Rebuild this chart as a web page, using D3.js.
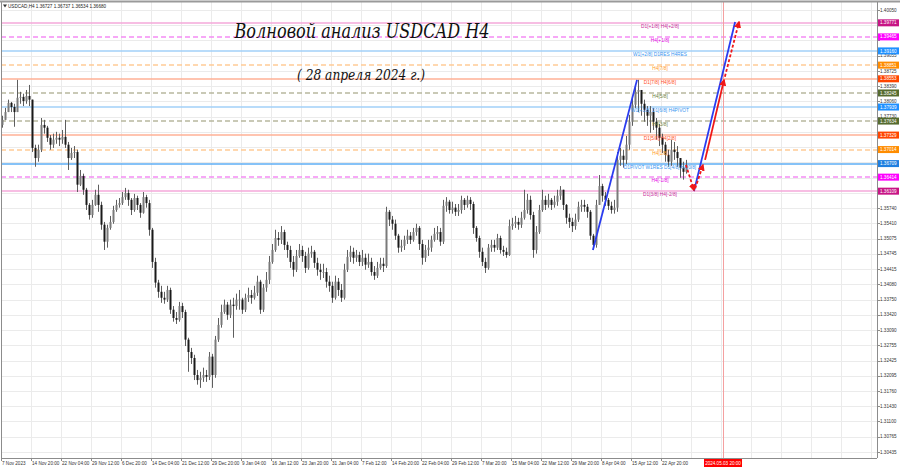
<!DOCTYPE html>
<html><head><meta charset="utf-8">
<script src="https://cdn.jsdelivr.net/npm/d3@7"></script>
<style>html,body{margin:0;padding:0;background:#fff;}svg{display:block;}</style>
</head><body>
<svg id="c" width="900" height="468"></svg>
<script>
// ---------------- DATA ----------------
const symbolTitle = "USDCAD,H4";
const headerOHLC = ["1.36727", "1.36737", "1.36534", "1.36680"];
const titleText = "Волновой анализ USDCAD H4";
const subtitleText = "( 28 апреля 2024 г.)";

const firstOpen = 1.3755;
const closes = [1.3766,1.3783,1.3803,1.3794,1.3783,1.3814,1.3816,1.3807,1.3818,1.3810,
1.3705,1.3683,1.3701,1.3755,1.3749,1.3727,1.3712,1.3723,1.3727,1.3723,
1.3729,1.3712,1.3683,1.3694,1.3696,1.3625,1.3644,1.3614,1.3581,1.3559,
1.3581,1.3603,1.3581,1.3538,1.3501,1.3531,1.3544,1.3570,1.3581,1.3585,
1.3598,1.3607,1.3592,1.3570,1.3596,1.3581,1.3564,1.3598,1.3585,1.3527,
1.3457,1.3412,1.3392,1.3379,1.3375,1.3396,1.3353,1.3335,1.3331,1.3361,
1.3348,1.3288,1.3261,1.3248,1.3211,1.3200,1.3205,1.3211,1.3207,1.3251,
1.3211,1.3288,1.3320,1.3348,1.3364,1.3342,1.3364,1.3361,1.3375,1.3375,
1.3353,1.3379,1.3385,1.3379,1.3390,1.3414,1.3353,1.3401,1.3418,1.3457,
1.3483,1.3509,1.3505,1.3522,1.3494,1.3483,1.3457,1.3440,1.3470,1.3483,
1.3470,1.3444,1.3475,1.3479,1.3455,1.3440,1.3435,1.3435,1.3414,1.3405,
1.3379,1.3414,1.3396,1.3379,1.3440,1.3468,1.3479,1.3466,1.3472,1.3457,
1.3466,1.3451,1.3457,1.3435,1.3427,1.3444,1.3453,1.3448,1.3566,1.3549,
1.3540,1.3514,1.3488,1.3492,1.3505,1.3514,1.3505,1.3522,1.3531,1.3496,
1.3466,1.3483,1.3488,1.3505,1.3518,1.3522,1.3501,1.3579,1.3588,1.3570,
1.3575,1.3566,1.3570,1.3592,1.3581,1.3592,1.3583,1.3531,1.3509,1.3479,
1.3457,1.3444,1.3488,1.3494,1.3488,1.3509,1.3483,1.3479,1.3472,1.3535,
1.3540,1.3544,1.3538,1.3553,1.3570,1.3592,1.3559,1.3483,1.3522,1.3570,
1.3592,1.3581,1.3592,1.3581,1.3588,1.3601,1.3614,1.3581,1.3553,1.3544,
1.3535,1.3549,1.3577,1.3581,1.3577,1.3566,1.3514,1.3494,1.3581,1.3622,
1.3601,1.3592,1.3579,1.3570,1.3575,1.3679,1.3688,1.3679,1.3712,1.3762,
1.3799,1.3827,1.3831,1.3801,1.3788,1.3775,1.3783,1.3762,1.3749,1.3727,
1.3712,1.3690,1.3675,1.3701,1.3696,1.3683,1.3662,1.3653,1.3668];
const highs = [1.3775,1.3792,1.3810,1.3805,1.3801,1.3853,1.3827,1.3823,1.3831,1.3842,
1.3810,1.3712,1.3712,1.3770,1.3766,1.3753,1.3733,1.3736,1.3740,1.3736,
1.3744,1.3766,1.3718,1.3705,1.3709,1.3701,1.3657,1.3649,1.3618,1.3585,
1.3592,1.3614,1.3625,1.3588,1.3544,1.3538,1.3557,1.3579,1.3592,1.3596,
1.3609,1.3618,1.3614,1.3596,1.3605,1.3601,1.3585,1.3609,1.3603,1.3592,
1.3531,1.3466,1.3418,1.3405,1.3392,1.3405,1.3401,1.3361,1.3348,1.3370,
1.3368,1.3353,1.3292,1.3270,1.3255,1.3222,1.3218,1.3227,1.3222,1.3261,
1.3257,1.3296,1.3335,1.3364,1.3375,1.3370,1.3375,1.3379,1.3388,1.3396,
1.3379,1.3388,1.3401,1.3396,1.3405,1.3427,1.3418,1.3409,1.3435,1.3470,
1.3496,1.3527,1.3522,1.3535,1.3527,1.3501,1.3492,1.3470,1.3483,1.3496,
1.3492,1.3479,1.3488,1.3492,1.3483,1.3466,1.3453,1.3453,1.3444,1.3427,
1.3414,1.3427,1.3422,1.3409,1.3453,1.3483,1.3492,1.3488,1.3483,1.3479,
1.3483,1.3475,1.3475,1.3466,1.3448,1.3457,1.3466,1.3466,1.3577,1.3570,
1.3557,1.3549,1.3518,1.3505,1.3514,1.3527,1.3522,1.3531,1.3540,1.3535,
1.3505,1.3494,1.3505,1.3514,1.3531,1.3535,1.3531,1.3592,1.3598,1.3592,
1.3588,1.3583,1.3583,1.3601,1.3596,1.3601,1.3598,1.3588,1.3535,1.3514,
1.3488,1.3466,1.3496,1.3505,1.3505,1.3518,1.3514,1.3492,1.3488,1.3549,
1.3553,1.3557,1.3553,1.3566,1.3614,1.3605,1.3601,1.3566,1.3535,1.3581,
1.3614,1.3601,1.3605,1.3596,1.3601,1.3614,1.3622,1.3614,1.3583,1.3562,
1.3553,1.3562,1.3588,1.3592,1.3592,1.3583,1.3570,1.3518,1.3592,1.3646,
1.3627,1.3609,1.3596,1.3588,1.3592,1.3696,1.3705,1.3701,1.3731,1.3777,
1.3814,1.3840,1.3853,1.3831,1.3810,1.3796,1.3796,1.3792,1.3770,1.3757,
1.3736,1.3718,1.3701,1.3723,1.3718,1.3709,1.3679,1.3675,1.3679];
const lows = [1.3749,1.3766,1.3788,1.3783,1.3751,1.3792,1.3801,1.3796,1.3801,1.3796,
1.3696,1.3664,1.3675,1.3696,1.3736,1.3718,1.3701,1.3705,1.3714,1.3709,
1.3714,1.3705,1.3657,1.3679,1.3683,1.3609,1.3622,1.3603,1.3570,1.3549,
1.3553,1.3579,1.3566,1.3527,1.3483,1.3488,1.3527,1.3540,1.3566,1.3575,
1.3581,1.3592,1.3579,1.3559,1.3566,1.3570,1.3553,1.3562,1.3575,1.3514,
1.3444,1.3401,1.3379,1.3368,1.3366,1.3370,1.3344,1.3327,1.3322,1.3327,
1.3335,1.3274,1.3218,1.3235,1.3200,1.3190,1.3183,1.3196,1.3196,1.3200,
1.3183,1.3205,1.3283,1.3314,1.3344,1.3331,1.3335,1.3292,1.3353,1.3353,
1.3344,1.3348,1.3370,1.3366,1.3375,1.3383,1.3344,1.3348,1.3392,1.3409,
1.3453,1.3479,1.3492,1.3496,1.3483,1.3466,1.3444,1.3425,1.3435,1.3466,
1.3457,1.3433,1.3440,1.3466,1.3444,1.3427,1.3418,1.3422,1.3401,1.3392,
1.3368,1.3375,1.3383,1.3370,1.3375,1.3435,1.3457,1.3453,1.3457,1.3448,
1.3448,1.3440,1.3444,1.3427,1.3418,1.3422,1.3440,1.3435,1.3444,1.3535,
1.3527,1.3505,1.3477,1.3479,1.3483,1.3496,1.3496,1.3501,1.3514,1.3483,
1.3451,1.3457,1.3470,1.3479,1.3501,1.3505,1.3492,1.3496,1.3566,1.3562,
1.3562,1.3557,1.3557,1.3562,1.3570,1.3575,1.3570,1.3518,1.3501,1.3466,
1.3448,1.3433,1.3440,1.3479,1.3479,1.3483,1.3475,1.3470,1.3466,1.3470,
1.3527,1.3531,1.3527,1.3531,1.3549,1.3562,1.3549,1.3466,1.3475,1.3518,
1.3566,1.3570,1.3575,1.3570,1.3575,1.3579,1.3592,1.3570,1.3540,1.3531,
1.3522,1.3527,1.3544,1.3566,1.3566,1.3553,1.3505,1.3483,1.3488,1.3581,
1.3588,1.3579,1.3570,1.3562,1.3562,1.3566,1.3666,1.3662,1.3670,1.3701,
1.3753,1.3792,1.3783,1.3775,1.3762,1.3753,1.3738,1.3744,1.3723,1.3709,
1.3694,1.3675,1.3664,1.3666,1.3679,1.3664,1.3640,1.3636,1.3649];

// right price-axis grid labels
const priceTicks = [1.40050,1.39720,1.39390,1.39055,1.38725,1.38390,1.38060,1.37730,1.37395,1.37065,
1.36735,1.36400,1.36070,1.35740,1.35410,1.35075,1.34745,1.34415,1.34080,1.33750,
1.33420,1.33090,1.32755,1.32425,1.32095,1.31760,1.31430,1.31100,1.30765,1.30435];

// time-axis labels (one every 10 candle slots)
const timeTickSlots = [0,10,20,30,40,50,60,70,80,90,100,110,120,130,140,150,160,170,180,190,200,210,220];
const timeTickLabels = ["7 Nov 2023","14 Nov 20:00","22 Nov 04:00","29 Nov 12:00","6 Dec 20:00","14 Dec 04:00",
"21 Dec 12:00","29 Dec 20:00","9 Jan 04:00","16 Jan 12:00","23 Jan 20:00","31 Jan 04:00","7 Feb 12:00",
"14 Feb 20:00","22 Feb 04:00","29 Feb 12:00","7 Mar 20:00","15 Mar 04:00","22 Mar 12:00","29 Mar 20:00",
"8 Apr 04:00","15 Apr 12:00","22 Apr 20:00"];

// Murrey / pivot levels
const levelPrices = [1.39771,1.39465,1.39160,1.38851,1.38553,1.38245,1.37939,1.37634,1.37329,1.37014,1.36709,1.36414,1.36109];
const levelNames = ["D1[+1/8] H4[+2/8]","H4[+1/8]","W1[+2/8] D1RES H4RES","H4[7/8]","D1[7/8] H4[6/8]","H4[5/8]",
"W1[+1/8] D1[6/8] H4PIVOT","H4[3/8]","D1[5/8] H4[2/8]","H4[1/8]","D1PIVOT W1RES D1[4/8] H4[0/8]","H4[-1/8]","D1[3/8] H4[-2/8]"];
const levelKinds = ["pink","magenta","blue","orange","red","olive","blue","olive","red","orange","pivot","magenta","pink"];

// wave projection lines: [slot, price]
const waveBlue1 = [[197.3,1.3483],[212.0,1.3853]];
const waveBlue2 = [[231.0,1.3611],[244.7,1.3979]];
const arrowRedDash1 = [[228.3,1.3668],[231.0,1.3613]];
const arrowRedDash2 = [[231.4,1.3617],[234.0,1.3668]];
const arrowRedSolid = [[234.7,1.3679],[241.0,1.3853]];
const arrowRedDash3 = [[241.3,1.3860],[246.0,1.3979]];

const futureSlot = 240.67;
const futureLabel = "2024.05.03 20:00";

// ---------------- DRAW ----------------
const svg = d3.select("#c");
const L = 1, R = 877, T = 2, B = 458;
const x = d3.scaleLinear().domain([0, 292]).range([L, R]);
const y = d3.scaleLinear().domain([1.30435, 1.40050]).range([452, 10]);
const py = v => Math.round(y(v)) + 0.5;

const kindStyle = {
  pink:   {line:"#f5a8da", dash:null,  text:"#c8289a", box:"#c71585"},
  magenta:{line:"#f58cf5", dash:"5,3", text:"#e600e6", box:"#ff00ff"},
  blue:   {line:"#a2d0f8", dash:null,  text:"#3a96f0", box:"#1e90ff"},
  pivot:  {line:"#5eaef4", dash:null,  text:"#3a96f0", box:"#1e7fe0"},
  orange: {line:"#ffcc96", dash:"5,3", text:"#ff9a1e", box:"#ff8c00"},
  red:    {line:"#ffb096", dash:null,  text:"#ff5028", box:"#ff4500"},
  olive:  {line:"#b8b89e", dash:"5,3", text:"#6b7d3a", box:"#556b2f"}
};
const FONT = "Liberation Sans, Arial, sans-serif";

svg.append("rect").attr("x",0).attr("y",0).attr("width",900).attr("height",468).attr("fill","#fff");
const defs = svg.append("defs");
defs.append("clipPath").attr("id","plot")
  .append("rect").attr("x",L).attr("y",T).attr("width",R-L).attr("height",B-T);

const g = svg.append("g").attr("clip-path","url(#plot)");

// grid
g.append("g").selectAll("line").data(priceTicks).join("line")
  .attr("x1",L).attr("x2",R).attr("y1",d=>py(d)).attr("y2",d=>py(d))
  .attr("stroke","#ebebeb").attr("stroke-width",1);
g.append("g").selectAll("line").data(d3.range(0, 300, 10)).join("line")
  .attr("y1",T).attr("y2",B).attr("x1",d=>Math.round(x(d))+0.5).attr("x2",d=>Math.round(x(d))+0.5)
  .attr("stroke","#ebebeb").attr("stroke-width",1);

// level lines
const levels = levelPrices.map((p,i)=>({p, name:levelNames[i], kind:levelKinds[i]}));
g.append("g").selectAll("line").data(levels).join("line")
  .attr("x1",L).attr("x2",R)
  .attr("y1",d=>Math.round(y(d.p))).attr("y2",d=>Math.round(y(d.p)))
  .attr("stroke",d=>kindStyle[d.kind].line).attr("stroke-width",1.6)
  .attr("stroke-dasharray",d=>kindStyle[d.kind].dash);

// future vertical line
g.append("line").attr("x1",Math.round(x(futureSlot))+0.5).attr("x2",Math.round(x(futureSlot))+0.5)
  .attr("y1",T).attr("y2",B).attr("stroke","#f4a0a0").attr("stroke-width",1);

// candles
const candles = closes.map((c,i)=>{
  const o = i===0 ? firstOpen : closes[i-1];
  return {i, o, c, h:Math.max(highs[i],o,c), l:Math.min(lows[i],o,c)};
});
const cg = g.append("g");
cg.selectAll("line").data(candles).join("line")
  .attr("x1",d=>x(d.i+0.5)).attr("x2",d=>x(d.i+0.5))
  .attr("y1",d=>y(d.h)).attr("y2",d=>y(d.l))
  .attr("stroke","#5e5e5e").attr("stroke-width",1);
cg.selectAll("rect").data(candles).join("rect")
  .attr("x",d=>x(d.i+0.5)-1).attr("width",2)
  .attr("y",d=>y(Math.max(d.o,d.c))).attr("height",d=>Math.max(0.8, Math.abs(y(d.o)-y(d.c))))
  .attr("fill",d=>d.c>=d.o ? "#7a7a7a" : "#1a1a1a");

// level texts
g.append("g").selectAll("text").data(levels).join("text")
  .attr("x",660).attr("y",d=>y(d.p)+5)
  .attr("text-anchor","middle").attr("font-family",FONT).attr("font-size",4.8)
  .attr("fill",d=>kindStyle[d.kind].text).text(d=>d.name);

// arrow marker
defs.append("marker").attr("id","arr").attr("viewBox","0 0 10 10").attr("refX",8).attr("refY",5)
  .attr("markerWidth",4).attr("markerHeight",4).attr("orient","auto")
  .append("path").attr("d","M0,0 L10,5 L0,10 z").attr("fill","#f01818");

const line = d3.line().x(d=>x(d[0])).y(d=>y(d[1]));
[waveBlue1, waveBlue2].forEach(pts=>{
  g.append("path").attr("d",line(pts)).attr("stroke","#2a3cf0").attr("stroke-width",1.8).attr("fill","none");
});
[[arrowRedDash1,true],[arrowRedDash2,true],[arrowRedSolid,false],[arrowRedDash3,true]].forEach(([pts,dashed])=>{
  g.append("path").attr("d",line(pts)).attr("stroke","#f01818").attr("stroke-width",1.8).attr("fill","none")
   .attr("stroke-dasharray",dashed?"3,2":null).attr("marker-end","url(#arr)");
});

// frame
svg.append("line").attr("x1",L+0.5).attr("x2",L+0.5).attr("y1",T).attr("y2",B).attr("stroke","#8c8c8c");
svg.append("line").attr("x1",0).attr("x2",900).attr("y1",1.5).attr("y2",1.5).attr("stroke","#9a9a9a").attr("stroke-width",2);
svg.append("line").attr("x1",R+0.5).attr("x2",R+0.5).attr("y1",T).attr("y2",B).attr("stroke","#8c8c8c");
svg.append("line").attr("x1",L).attr("x2",R).attr("y1",B+0.5).attr("y2",B+0.5).attr("stroke","#8c8c8c");

// right axis (grey labels hidden where a coloured level label sits on them)
const ra = svg.append("g");
ra.append("g").selectAll("line").data(priceTicks).join("line")
  .attr("x1",R).attr("x2",R+3).attr("y1",d=>py(d)).attr("y2",d=>py(d))
  .attr("stroke","#8c8c8c");
const freeTicks = priceTicks.filter(t => levelPrices.every(p => Math.abs(y(p)-y(t)) > 4.2));
ra.append("g").selectAll("text").data(freeTicks).join("text")
  .attr("x",R+3).attr("y",d=>y(d)+1.6).attr("font-family",FONT).attr("font-size",4.6)
  .attr("fill","#333").text(d=>d.toFixed(5));
const lb = ra.append("g").selectAll("g").data(levels).join("g");
lb.append("rect").attr("x",R+1).attr("y",d=>y(d.p)-3.5).attr("width",21).attr("height",7)
  .attr("fill",d=>kindStyle[d.kind].box);
lb.append("text").attr("x",R+3).attr("y",d=>y(d.p)+1.6).attr("font-family",FONT).attr("font-size",4.6)
  .attr("fill","#fff").text(d=>d.p.toFixed(5));

// bottom axis
const ba = svg.append("g");
ba.append("g").selectAll("line").data(timeTickSlots).join("line")
  .attr("x1",d=>Math.round(x(d))+0.5).attr("x2",d=>Math.round(x(d))+0.5).attr("y1",B).attr("y2",B+3)
  .attr("stroke","#8c8c8c");
ba.append("g").selectAll("text").data(timeTickSlots).join("text")
  .attr("x",d=>x(d)+1).attr("y",465).attr("font-family",FONT).attr("font-size",4.6).attr("fill","#333")
  .text((d,i)=>timeTickLabels[i]);
const fx = x(futureSlot);
ba.append("rect").attr("x",fx-19).attr("y",B+1).attr("width",38).attr("height",8).attr("fill","#f00");
ba.append("text").attr("x",fx).attr("y",465).attr("text-anchor","middle").attr("font-family",FONT)
  .attr("font-size",4.6).attr("fill","#fff").text(futureLabel);

// header
svg.append("path").attr("d","M3,4.5 L7,4.5 L5,7.5 z").attr("fill","#333");
svg.append("text").attr("x",8).attr("y",8).attr("font-family",FONT).attr("font-size",4.6).attr("fill","#222")
  .text(symbolTitle + "  " + headerOHLC.join(" "));

// titles
svg.append("text").attr("x",362).attr("y",38).attr("text-anchor","middle")
  .attr("font-family","DejaVu Serif, serif").attr("font-style","italic").attr("font-size",21)
  .attr("textLength",255).attr("lengthAdjust","spacingAndGlyphs").attr("fill","#111").text(titleText);
svg.append("text").attr("x",361).attr("y",80).attr("text-anchor","middle")
  .attr("font-family","DejaVu Serif, serif").attr("font-style","italic").attr("font-size",14)
  .attr("textLength",128).attr("lengthAdjust","spacingAndGlyphs").attr("fill","#111").text(subtitleText);
</script>
</body></html>
